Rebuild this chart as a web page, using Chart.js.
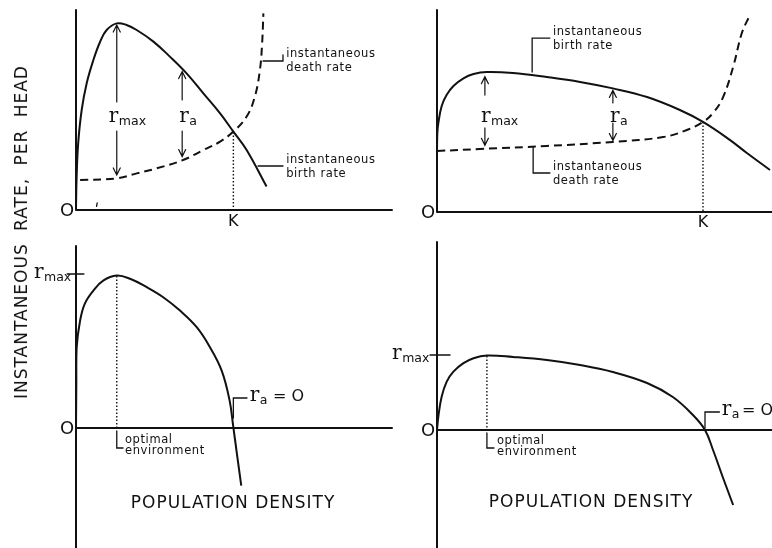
<!DOCTYPE html>
<html lang="en">
<head>
<meta charset="UTF-8">
<title>Birth, death and r against population density</title>
<script src="https://cdn.jsdelivr.net/npm/chart.js"></script>
<style>
    body { margin: 0; background: #fff; }
    #wrap { position: relative; width: 772px; height: 548px; overflow: hidden; }
    #wrap canvas { position: absolute; left: 0; top: 0; }
    .ytitle {
        position: absolute;
        left: 21px; top: 232px;
        transform: translate(-50%, -50%) rotate(-90deg);
        font-family: 'DejaVu Sans', sans-serif;
        font-size: 17px;
        letter-spacing: 1px;
        word-spacing: 6px;
        white-space: nowrap;
        color: #111;
    }
</style>
</head>
<body>
<div id="wrap">
    <canvas id="tl" width="772" height="548"></canvas>
    <canvas id="tr" width="772" height="548"></canvas>
    <canvas id="bl" width="772" height="548"></canvas>
    <canvas id="br" width="772" height="548"></canvas>
    <div class="ytitle">INSTANTANEOUS RATE, PER HEAD</div>
</div>

<script>
    // density runs 0..100 along each x axis, rate in arbitrary units above the axis

    // top left: birth rate falls steeply, death rate climbs near K
    const tlDensityBirth = [0, 0.2, 0.7, 1.8, 3.4, 5.5, 7.6, 9.7, 12.9, 16, 19.2, 24.5, 29.7, 35, 40.3, 45.6, 49.8, 54, 60.3];
    const tlBirth        = [1, 16.5, 33.5, 50, 63.5, 75, 84, 90, 93.3, 92.5, 90, 84.2, 76.7, 68.3, 58.3, 48.3, 39.2, 30, 11.7];
    const tlDensityDeath = [1.3, 12.9, 19.2, 25.5, 33.9, 40.3, 45.6, 49.8, 54, 56.6, 58.2, 58.9, 59.3];
    const tlDeath        = [15, 15.8, 18.3, 20.8, 25, 30, 34.2, 39.2, 46.7, 56.7, 70, 83.3, 98.3];

    // top right: flat birth rate, death rate rising sharply past K
    const trDensityBirth = [0, 0.1, 0.4, 1.4, 2.9, 4.9, 7.9, 10.9, 14.9, 22.7, 32.8, 42.7, 52.5, 62.7, 72.5, 79.4, 87.5, 92.5, 99.4];
    const trBirth        = [30.2, 39, 44, 52.5, 58, 62.4, 66.2, 68.3, 69.3, 68.8, 66.8, 64.4, 61.2, 56.9, 50.5, 44.6, 35.6, 29.2, 20.8];
    const trDensityDeath = [0, 12.8, 32.8, 52.5, 67.5, 74.6, 79.4, 82.4, 85.4, 88.4, 91, 93.4];
    const trDeath        = [30.2, 31.2, 32.7, 34.7, 37.1, 40.6, 44.6, 49, 56.9, 71.8, 88.6, 97.5];

    // bottom: actual rate of increase r_a
    const blDensity = [0, 0.1, 0.2, 1.3, 2.8, 5.5, 8.6, 12.9, 17.1, 22.4, 27.6, 32.9, 38.2, 42.4, 46.1, 48.6, 49.8, 51, 52.3];
    const blRate    = [0, 22, 40, 53.7, 62.2, 68.7, 73.7, 76.2, 74.6, 70.4, 65.4, 58.7, 50.4, 40.4, 28.7, 13.8, 0.3, -13.8, -28.8];
    const brDensity = [0, 0.4, 1.4, 2.9, 4.9, 7.9, 10.9, 14.9, 22.7, 32.8, 42.7, 52.5, 62.7, 70.4, 76.4, 80, 82.4, 85.4, 88.4];
    const brRate    = [0, 6.7, 16.7, 24.2, 29.2, 33.4, 35.9, 37.2, 36.5, 35, 32.5, 29, 23.5, 16.5, 7.5, 0, -10, -24, -37.5];

    // key densities / rates
    const tlK = 49.8, tlOpt = 12.9, tlRa = 33.6;
    const trK = 79.4, trOpt = 14.3, trRa = 52.5;
    const blOpt = 12.9, blRmax = 77, blZero = 49.8;
    const brOpt = 14.9, brRmax = 37.5, brZero = 80;

    const INK = '#111';
    const SANS = '"DejaVu Sans", sans-serif';
    const SERIF = '"DejaVu Serif", serif';

    const pts = (xs, ys) => xs.map((x, i) => ({ x: x, y: ys[i] }));

    // annotations in data coordinates, per panel
    const marks = {
        tl: [
            { t: 'text', x: 0, y: 0, s: 'O', size: 18, dx: -9, dy: 1, align: 'center' },
            { t: 'text', x: tlK, y: 0, s: 'K', size: 16, dy: 12, align: 'center' },
            { t: 'path', p: [[6.7, 3.5], [6.5, 1.8]] },
            { t: 'dots', x: tlK, y0: 39, y1: 0 },
            { t: 'arrow', x: tlOpt, y0: 54, y1: 92.5 },
            { t: 'arrow', x: tlOpt, y0: 39.5, y1: 17.5 },
            { t: 'r', x: tlOpt, y: 46.7, sub: 'max', dx: -8 },
            { t: 'arrow', x: tlRa, y0: 55, y1: 69.2 },
            { t: 'arrow', x: tlRa, y0: 39.5, y1: 26.7 },
            { t: 'r', x: tlRa, y: 46.7, sub: 'a', dx: -3 },
            { t: 'path', p: [[59.2, 74.5], [65.5, 74.5], [65.5, 77.5]] },
            { t: 'lines', x: 66.5, y: 78, rows: ['instantaneous', 'death rate'] },
            { t: 'path', p: [[57.6, 22], [65.5, 22]] },
            { t: 'lines', x: 66.5, y: 25, rows: ['instantaneous', 'birth rate'] }
        ],
        tr: [
            { t: 'text', x: 0, y: 0, s: 'O', size: 18, dx: -9, dy: 1, align: 'center' },
            { t: 'text', x: trK, y: 0, s: 'K', size: 16, dy: 11, align: 'center' },
            { t: 'dots', x: trK, y0: 44.6, y1: 0 },
            { t: 'arrow', x: trOpt, y0: 57.9, y1: 67 },
            { t: 'arrow', x: trOpt, y0: 41.6, y1: 33 },
            { t: 'r', x: trOpt, y: 47, sub: 'max', dx: -4 },
            { t: 'arrow', x: trRa, y0: 54, y1: 60.2 },
            { t: 'arrow', x: trRa, y0: 44, y1: 35.4 },
            { t: 'r', x: trRa, y: 47, sub: 'a', dx: -3 },
            { t: 'path', p: [[28.4, 69.3], [28.4, 86.1], [33.7, 86.1]] },
            { t: 'lines', x: 34.6, y: 89.1, rows: ['instantaneous', 'birth rate'] },
            { t: 'path', p: [[28.7, 32.3], [28.7, 19.3], [33.7, 19.3]] },
            { t: 'lines', x: 34.6, y: 22.3, rows: ['instantaneous', 'death rate'] }
        ],
        bl: [
            { t: 'text', x: 0, y: 0, s: 'O', size: 18, dx: -9, dy: 1, align: 'center' },
            { t: 'path', p: [[-2.8, blRmax], [2.5, blRmax]] },
            { t: 'r', x: -13.3, y: blRmax, sub: 'max', dy: -1 },
            { t: 'dots', x: blOpt, y0: 76, y1: 0 },
            { t: 'path', p: [[blOpt, -1.5], [blOpt, -10], [14.9, -10]] },
            { t: 'lines', x: 15.5, y: -6, rows: ['optimal', 'environment'], lh: 11 },
            { t: 'path', p: [[blZero, 5], [blZero, 15], [54.1, 15]] },
            { t: 'r', x: 55, y: 15, sub: 'a', tail: ' = O', dy: -2 },
            { t: 'text', x: 49.7, y: -38, s: 'POPULATION DENSITY', size: 17, align: 'center', spacing: 1 }
        ],
        br: [
            { t: 'text', x: 0, y: 0, s: 'O', size: 18, dx: -9, dy: 1, align: 'center' },
            { t: 'path', p: [[-2.1, brRmax], [3.9, brRmax]] },
            { t: 'r', x: -13.4, y: brRmax, sub: 'max', dy: -1 },
            { t: 'dots', x: brOpt, y0: 37, y1: 0 },
            { t: 'path', p: [[brOpt, -1.5], [brOpt, -9], [17, -9]] },
            { t: 'lines', x: 17.9, y: -5.5, rows: ['optimal', 'environment'], lh: 11 },
            { t: 'path', p: [[brZero, 1], [brZero, 9], [84.3, 9]] },
            { t: 'r', x: 85, y: 9, sub: 'a', tail: '= O', dy: -2, tight: true },
            { t: 'text', x: 46, y: -36.5, s: 'POPULATION DENSITY', size: 17, align: 'center', spacing: 1 }
        ]
    };

    function drawR(ctx, x, y, m) {
        // baseline sits a bit below the anchor so the r is centred on it
        const base = y + 5 + (m.dy || 0);
        ctx.textAlign = 'left';
        ctx.textBaseline = 'alphabetic';
        ctx.font = '20px ' + SERIF;
        ctx.fillText('r', x, base);
        let w = ctx.measureText('r').width;
        ctx.font = '12.5px ' + SANS;
        ctx.fillText(m.sub, x + w + 0.5, base + 3);
        if (m.tail) {
            w += ctx.measureText(m.sub).width + (m.tight ? 3 : 1);
            ctx.font = '16px ' + SANS;
            ctx.fillText(m.tail, x + w, base);
        }
    }

    const sketch = {
        id: 'sketch',
        afterDatasetsDraw(chart) {
            const list = marks[chart.canvas.id] || [];
            const xs = chart.scales.x, ys = chart.scales.y;
            const px = v => xs.getPixelForValue(v);
            const py = v => ys.getPixelForValue(v);
            const ctx = chart.ctx;
            ctx.save();
            ctx.strokeStyle = INK;
            ctx.fillStyle = INK;
            ctx.lineCap = 'round';

            // axes: vertical through density 0, horizontal through rate 0
            ctx.lineWidth = 2;
            ctx.beginPath();
            ctx.moveTo(px(0), py(ys.max));
            ctx.lineTo(px(0), py(ys.min));
            ctx.moveTo(px(0), py(0));
            ctx.lineTo(px(xs.max), py(0));
            ctx.stroke();

            list.forEach(m => {
                ctx.setLineDash([]);
                if (m.t === 'path') {
                    ctx.lineWidth = 1.3;
                    ctx.beginPath();
                    m.p.forEach((q, i) => i ? ctx.lineTo(px(q[0]), py(q[1])) : ctx.moveTo(px(q[0]), py(q[1])));
                    ctx.stroke();
                } else if (m.t === 'dots') {
                    ctx.lineWidth = 1.4;
                    ctx.lineCap = 'butt';
                    ctx.setLineDash([1.5, 2]);
                    ctx.beginPath();
                    ctx.moveTo(px(m.x), py(m.y0));
                    ctx.lineTo(px(m.x), py(m.y1));
                    ctx.stroke();
                    ctx.lineCap = 'round';
                } else if (m.t === 'arrow') {
                    const x = px(m.x), a = py(m.y0), b = py(m.y1);
                    const dir = b < a ? 1 : -1;
                    ctx.lineWidth = 1.2;
                    ctx.beginPath();
                    ctx.moveTo(x, a);
                    ctx.lineTo(x, b);
                    ctx.moveTo(x - 3.5, b + dir * 7);
                    ctx.lineTo(x, b);
                    ctx.lineTo(x + 3.5, b + dir * 7);
                    ctx.stroke();
                } else if (m.t === 'text') {
                    ctx.font = m.size + 'px ' + SANS;
                    ctx.textAlign = m.align || 'left';
                    ctx.textBaseline = 'middle';
                    ctx.letterSpacing = (m.spacing || 0) + 'px';
                    ctx.fillText(m.s, px(m.x) + (m.dx || 0), py(m.y) + (m.dy || 0));
                    ctx.letterSpacing = '0px';
                } else if (m.t === 'lines') {
                    ctx.font = '11.5px ' + SANS;
                    ctx.textAlign = 'left';
                    ctx.textBaseline = 'middle';
                    ctx.letterSpacing = '0.6px';
                    const lh = m.lh || 14;
                    m.rows.forEach((s, i) => ctx.fillText(s, px(m.x), py(m.y) + i * lh));
                    ctx.letterSpacing = '0px';
                } else if (m.t === 'r') {
                    drawR(ctx, px(m.x) + (m.dx || 0), py(m.y), m);
                }
            });
            ctx.restore();
        }
    };

    function makePanel(id, pad, yMin, yMax, datasets) {
        new Chart(document.getElementById(id), {
            type: 'line',
            data: {
                datasets: datasets.map(d => ({
                    data: d.data,
                    borderColor: INK,
                    borderWidth: 2,
                    borderDash: d.dash ? [8, 5] : [],
                    pointRadius: 0,
                    fill: false,
                    tension: 0.4
                }))
            },
            options: {
                responsive: false,
                animation: false,
                events: [],
                layout: { padding: pad },
                scales: {
                    x: { type: 'linear', min: 0, max: 100, display: false },
                    y: { type: 'linear', min: yMin, max: yMax, display: false }
                },
                plugins: { legend: { display: false }, tooltip: { enabled: false } }
            },
            plugins: [sketch]
        });
    }

    makePanel('tl', { left: 76, right: 380, top: 10, bottom: 338 }, 0, 100, [
        { data: pts(tlDensityBirth, tlBirth) },
        { data: pts(tlDensityDeath, tlDeath), dash: true }
    ]);
    makePanel('tr', { left: 437, right: 0, top: 10, bottom: 336 }, 0, 100, [
        { data: pts(trDensityBirth, trBirth) },
        { data: pts(trDensityDeath, trDeath), dash: true }
    ]);
    makePanel('bl', { left: 76, right: 380, top: 246, bottom: 0 }, -60, 91, [
        { data: pts(blDensity, blRate) }
    ]);
    makePanel('br', { left: 437, right: 0, top: 242, bottom: 0 }, -59, 94, [
        { data: pts(brDensity, brRate) }
    ]);
</script>
</body>
</html>
